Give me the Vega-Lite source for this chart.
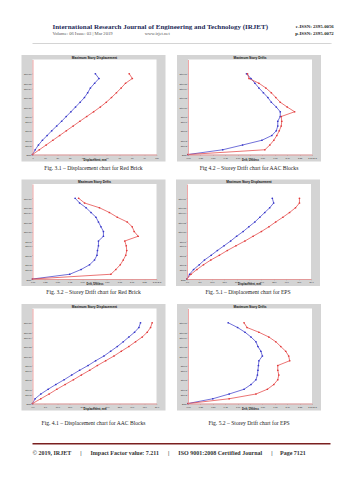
{
"$schema": "https://vega.github.io/schema/vega-lite/v6.json",
"background": "white",
"padding": {"left": 20.5, "top": 22, "right": 0, "bottom": 0},
"config": {
  "view": {"stroke": null},
  "axis": {"labelFont": "Liberation Sans", "labelFontSize": 2.2, "labelColor": "#333", "titleFont": "Liberation Sans", "titleFontSize": 2.6, "titleFontWeight": "bold", "titleColor": "#111", "tickSize": 1, "tickWidth": 0.3, "tickColor": "#888", "labelPadding": 0.5, "titlePadding": 0.3, "gridColor": "#d0d0d0", "gridWidth": 0.5, "domainColor": "#e88080", "domainWidth": 0.7, "zindex": 1, "labelOverlap": false, "labelFlush": false}
},
"datasets": {
"p1": [
{"story":0,"dir":"Y","value":0},{"story":1,"dir":"Y","value":2.2},{"story":2,"dir":"Y","value":4.8},{"story":3,"dir":"Y","value":8},{"story":4,"dir":"Y","value":11.8},{"story":5,"dir":"Y","value":15.5},{"story":6,"dir":"Y","value":19.5},{"story":7,"dir":"Y","value":23.5},{"story":8,"dir":"Y","value":27.2},{"story":9,"dir":"Y","value":31},{"story":10,"dir":"Y","value":34.7},{"story":11,"dir":"Y","value":38.4},{"story":12,"dir":"Y","value":41.9},{"story":13,"dir":"Y","value":44.5},{"story":14,"dir":"Y","value":46.7},{"story":15,"dir":"Y","value":50.1},{"story":16,"dir":"Y","value":53.6},{"story":17,"dir":"Y","value":50.7},
{"story":0,"dir":"X","value":0},{"story":1,"dir":"X","value":5.5},{"story":2,"dir":"X","value":11},{"story":3,"dir":"X","value":16.4},{"story":4,"dir":"X","value":21.9},{"story":5,"dir":"X","value":27.3},{"story":6,"dir":"X","value":32.8},{"story":7,"dir":"X","value":38.2},{"story":8,"dir":"X","value":43.7},{"story":9,"dir":"X","value":49.3},{"story":10,"dir":"X","value":54.7},{"story":11,"dir":"X","value":59.5},{"story":12,"dir":"X","value":63.7},{"story":13,"dir":"X","value":67.7},{"story":14,"dir":"X","value":71.5},{"story":15,"dir":"X","value":75},{"story":16,"dir":"X","value":80.5},{"story":17,"dir":"X","value":78}
],
"p2": [
{"story":0,"dir":"Y","value":0},{"story":1,"dir":"Y","value":0.7},{"story":2,"dir":"Y","value":1.1},{"story":3,"dir":"Y","value":1.49},{"story":4,"dir":"Y","value":1.69},{"story":5,"dir":"Y","value":1.78},{"story":6,"dir":"Y","value":1.81},{"story":7,"dir":"Y","value":1.81},{"story":8,"dir":"Y","value":1.86},{"story":9,"dir":"Y","value":1.86},{"story":10,"dir":"Y","value":1.78},{"story":11,"dir":"Y","value":1.68},{"story":12,"dir":"Y","value":1.61},{"story":13,"dir":"Y","value":1.52},{"story":14,"dir":"Y","value":1.43},{"story":15,"dir":"Y","value":1.35},{"story":16,"dir":"Y","value":1.27},{"story":17,"dir":"Y","value":1.18},
{"story":0,"dir":"X","value":0},{"story":1,"dir":"X","value":1.55},{"story":2,"dir":"X","value":1.65},{"story":3,"dir":"X","value":1.73},{"story":4,"dir":"X","value":1.79},{"story":5,"dir":"X","value":1.84},{"story":6,"dir":"X","value":1.88},{"story":7,"dir":"X","value":1.89},{"story":8,"dir":"X","value":1.88},{"story":9,"dir":"X","value":2.15},{"story":10,"dir":"X","value":2.0},{"story":11,"dir":"X","value":1.86},{"story":12,"dir":"X","value":1.77},{"story":13,"dir":"X","value":1.68},{"story":14,"dir":"X","value":1.57},{"story":15,"dir":"X","value":1.43},{"story":16,"dir":"X","value":1.23},{"story":17,"dir":"X","value":1.2}
],
"p3": [
{"story":0,"dir":"Y","value":0},{"story":1,"dir":"Y","value":0.75},{"story":2,"dir":"Y","value":0.98},{"story":3,"dir":"Y","value":1.15},{"story":4,"dir":"Y","value":1.25},{"story":5,"dir":"Y","value":1.3},{"story":6,"dir":"Y","value":1.31},{"story":7,"dir":"Y","value":1.33},{"story":8,"dir":"Y","value":1.33},{"story":9,"dir":"Y","value":1.43},{"story":10,"dir":"Y","value":1.43},{"story":11,"dir":"Y","value":1.38},{"story":12,"dir":"Y","value":1.33},{"story":13,"dir":"Y","value":1.28},{"story":14,"dir":"Y","value":1.18},{"story":15,"dir":"Y","value":1.08},{"story":16,"dir":"Y","value":0.95},{"story":17,"dir":"Y","value":0.86},
{"story":0,"dir":"X","value":0},{"story":1,"dir":"X","value":1.58},{"story":2,"dir":"X","value":1.68},{"story":3,"dir":"X","value":1.77},{"story":4,"dir":"X","value":1.83},{"story":5,"dir":"X","value":1.88},{"story":6,"dir":"X","value":1.9},{"story":7,"dir":"X","value":1.89},{"story":8,"dir":"X","value":1.86},{"story":9,"dir":"X","value":2.13},{"story":10,"dir":"X","value":2.05},{"story":11,"dir":"X","value":2.01},{"story":12,"dir":"X","value":1.91},{"story":13,"dir":"X","value":1.71},{"story":14,"dir":"X","value":1.55},{"story":15,"dir":"X","value":1.35},{"story":16,"dir":"X","value":1.05},{"story":17,"dir":"X","value":0.93}
],
"p4": [
{"story":0,"dir":"Y","value":0},{"story":1,"dir":"Y","value":1.05},{"story":2,"dir":"Y","value":2.65},{"story":3,"dir":"Y","value":4.95},{"story":4,"dir":"Y","value":7.05},{"story":5,"dir":"Y","value":9.75},{"story":6,"dir":"Y","value":12.25},{"story":7,"dir":"Y","value":14.95},{"story":8,"dir":"Y","value":17.6},{"story":9,"dir":"Y","value":20},{"story":10,"dir":"Y","value":22.65},{"story":11,"dir":"Y","value":24.95},{"story":12,"dir":"Y","value":27.35},{"story":13,"dir":"Y","value":29.35},{"story":14,"dir":"Y","value":31.35},{"story":15,"dir":"Y","value":33.35},{"story":16,"dir":"Y","value":34.95},{"story":17,"dir":"Y","value":34.4},
{"story":0,"dir":"X","value":0},{"story":1,"dir":"X","value":1.6},{"story":2,"dir":"X","value":4},{"story":3,"dir":"X","value":6.65},{"story":4,"dir":"X","value":9.6},{"story":5,"dir":"X","value":13.05},{"story":6,"dir":"X","value":16.25},{"story":7,"dir":"X","value":19.75},{"story":8,"dir":"X","value":23.35},{"story":9,"dir":"X","value":26.65},{"story":10,"dir":"X","value":30},{"story":11,"dir":"X","value":33.05},{"story":12,"dir":"X","value":35.75},{"story":13,"dir":"X","value":38.65},{"story":14,"dir":"X","value":41.35},{"story":15,"dir":"X","value":43.75},{"story":16,"dir":"X","value":45.35},{"story":17,"dir":"X","value":45.35}
],
"p5": [
{"story":0,"dir":"Y","value":0},{"story":1,"dir":"Y","value":1.05},{"story":2,"dir":"Y","value":3.35},{"story":3,"dir":"Y","value":6.3},{"story":4,"dir":"Y","value":9.4},{"story":5,"dir":"Y","value":12.75},{"story":6,"dir":"Y","value":15.8},{"story":7,"dir":"Y","value":19},{"story":8,"dir":"Y","value":22.4},{"story":9,"dir":"Y","value":25.45},{"story":10,"dir":"Y","value":28.8},{"story":11,"dir":"Y","value":31.5},{"story":12,"dir":"Y","value":34.2},{"story":13,"dir":"Y","value":36.6},{"story":14,"dir":"Y","value":38.85},{"story":15,"dir":"Y","value":41.15},{"story":16,"dir":"Y","value":42.9},{"story":17,"dir":"Y","value":43.55},
{"story":0,"dir":"X","value":0},{"story":1,"dir":"X","value":3.35},{"story":2,"dir":"X","value":6.7},{"story":3,"dir":"X","value":9.8},{"story":4,"dir":"X","value":13.15},{"story":5,"dir":"X","value":16.5},{"story":6,"dir":"X","value":19.7},{"story":7,"dir":"X","value":23.05},{"story":8,"dir":"X","value":26.15},{"story":9,"dir":"X","value":29.5},{"story":10,"dir":"X","value":32.85},{"story":11,"dir":"X","value":35.8},{"story":12,"dir":"X","value":38.85},{"story":13,"dir":"X","value":41.55},{"story":14,"dir":"X","value":44.25},{"story":15,"dir":"X","value":46.25},{"story":16,"dir":"X","value":47.6},{"story":17,"dir":"X","value":48.25}
],
"p6": [
{"story":0,"dir":"Y","value":0},{"story":1,"dir":"Y","value":0.5},{"story":2,"dir":"Y","value":0.83},{"story":3,"dir":"Y","value":1.13},{"story":4,"dir":"Y","value":1.27},{"story":5,"dir":"Y","value":1.37},{"story":6,"dir":"Y","value":1.4},{"story":7,"dir":"Y","value":1.41},{"story":8,"dir":"Y","value":1.42},{"story":9,"dir":"Y","value":1.43},{"story":10,"dir":"Y","value":1.5},{"story":11,"dir":"Y","value":1.47},{"story":12,"dir":"Y","value":1.41},{"story":13,"dir":"Y","value":1.37},{"story":14,"dir":"Y","value":1.27},{"story":15,"dir":"Y","value":1.15},{"story":16,"dir":"Y","value":1.0},{"story":17,"dir":"Y","value":0.81},
{"story":0,"dir":"X","value":0},{"story":1,"dir":"X","value":0.83},{"story":2,"dir":"X","value":1.37},{"story":3,"dir":"X","value":1.6},{"story":4,"dir":"X","value":1.73},{"story":5,"dir":"X","value":1.81},{"story":6,"dir":"X","value":1.83},{"story":7,"dir":"X","value":1.81},{"story":8,"dir":"X","value":1.81},{"story":9,"dir":"X","value":2.05},{"story":10,"dir":"X","value":2.03},{"story":11,"dir":"X","value":1.97},{"story":12,"dir":"X","value":1.87},{"story":13,"dir":"X","value":1.77},{"story":14,"dir":"X","value":1.63},{"story":15,"dir":"X","value":1.43},{"story":16,"dir":"X","value":1.19},{"story":17,"dir":"X","value":1.13}
]
},
"spacing": 14,
"vconcat": [
{"spacing": 7.5, "vconcat": [
  {"spacing": 0, "bounds": "flush", "hconcat": [
    {"width": 298, "height": 0.6, "view": {"fill": "#aaaaaa", "stroke": null}, "data": {"values": [{}]}, "mark": {"type": "point", "opacity": 0}, "encoding": {},
     "title": {"text": "International Research Journal of Engineering and Technology (IRJET)", "subtitle": "Volume: 06 Issue: 03 | Mar 2019\u00a0\u00a0\u00a0\u00a0\u00a0\u00a0\u00a0\u00a0\u00a0\u00a0\u00a0\u00a0\u00a0\u00a0\u00a0\u00a0\u00a0\u00a0\u00a0\u00a0\u00a0\u00a0\u00a0\u00a0\u00a0\u00a0\u00a0\u00a0www.irjet.net", "anchor": "start", "dx": 20, "offset": 4.5, "font": "Liberation Serif", "fontSize": 7, "fontWeight": "bold", "color": "#1d2a57", "subtitleFont": "Liberation Serif", "subtitleFontSize": 4.6, "subtitleColor": "#555", "subtitlePadding": 1.5}},
    {"width": 1, "height": 0.6, "view": {"fill": "#aaaaaa", "stroke": null}, "data": {"values": [{}]}, "mark": {"type": "point", "opacity": 0}, "encoding": {},
     "title": {"text": "e-ISSN: 2395-0056", "subtitle": "p-ISSN: 2395-0072", "anchor": "end", "offset": 4.5, "font": "Liberation Serif", "fontSize": 4.8, "fontWeight": "bold", "color": "#222", "subtitleFont": "Liberation Serif", "subtitleFontSize": 4.8, "subtitleFontWeight": "bold", "subtitleColor": "#222", "subtitlePadding": 2.5}}
  ]},
  {"spacing": 9.5, "hconcat": [
    {"title": {"text": "Fig. 3.1 – Displacement chart for Red Brick", "orient": "bottom", "anchor": "middle", "offset": 4, "font": "Liberation Serif", "fontSize": 5.6, "fontWeight": "normal", "color": "#222"},
     "vconcat": [{"width": 124, "height": 95,
      "title": {"text": "Maximum Story Displacement", "anchor": "middle", "offset": -3.8, "font": "Liberation Sans", "fontSize": 3.2, "fontWeight": "bold", "color": "#111"},
      "layer": [
       {"data": {"values": [{}]}, "mark": {"type": "rect", "color": "#d4d4d4", "clip": false},
        "encoding": {"x": {"datum": -8.87, "type": "quantitative", "scale": {"domain": [0, 100], "nice": false, "zero": false}, "axis": {"zindex": 1, "title": "Displacement, mm", "values": [0,10,20,30,40,50,60,70,80,90,100], "format": "d"}}, "x2": {"datum": 107.26}, "y": {"datum": -1.474, "type": "quantitative", "scale": {"domain": [0, 20], "nice": false, "zero": false}, "axis": {"zindex": 1, "title": null, "values": [0,2,3,5,7,8,10,12,14,15,17], "labelExpr": "datum.value == 0 ? 'Base' : 'Story' + datum.value"}}, "y2": {"datum": 20.947}}},
       {"data": {"values": [{}]}, "mark": {"type": "rect", "color": "#ffffff", "clip": false},
        "encoding": {"x": {"datum": 0, "type": "quantitative", "scale": {"domain": [0, 100], "nice": false, "zero": false}, "axis": {"zindex": 1, "title": "Displacement, mm", "values": [0,10,20,30,40,50,60,70,80,90,100], "format": "d"}}, "x2": {"datum": 100}, "y": {"datum": 0, "type": "quantitative", "scale": {"domain": [0, 20], "nice": false, "zero": false}, "axis": {"zindex": 1, "title": null, "values": [0,2,3,5,7,8,10,12,14,15,17], "labelExpr": "datum.value == 0 ? 'Base' : 'Story' + datum.value"}}, "y2": {"datum": 20}}},
       {"data": {"name": "p1"}, "mark": {"type": "line", "strokeWidth": 0.7},
        "encoding": {"x": {"field": "value", "type": "quantitative", "scale": {"domain": [0, 100], "nice": false, "zero": false}, "axis": {"zindex": 1, "title": "Displacement, mm", "values": [0,10,20,30,40,50,60,70,80,90,100], "format": "d"}},
          "y": {"field": "story", "type": "quantitative", "scale": {"domain": [0, 20], "nice": false, "zero": false}, "axis": {"zindex": 1, "title": null, "values": [0,2,3,5,7,8,10,12,14,15,17], "labelExpr": "datum.value == 0 ? 'Base' : 'Story' + datum.value"}},
          "color": {"field": "dir", "type": "nominal", "scale": {"domain": ["X", "Y"], "range": ["#e23a3a", "#3434c8"]}, "legend": null},
          "order": {"field": "story", "type": "quantitative"}}},
       {"data": {"name": "p1"}, "mark": {"type": "point", "filled": true, "size": 3, "opacity": 1},
        "encoding": {"x": {"field": "value", "type": "quantitative", "scale": {"domain": [0, 100], "nice": false, "zero": false}, "axis": {"zindex": 1, "title": "Displacement, mm", "values": [0,10,20,30,40,50,60,70,80,90,100], "format": "d"}}, "y": {"field": "story", "type": "quantitative", "scale": {"domain": [0, 20], "nice": false, "zero": false}, "axis": {"zindex": 1, "title": null, "values": [0,2,3,5,7,8,10,12,14,15,17], "labelExpr": "datum.value == 0 ? 'Base' : 'Story' + datum.value"}}, "color": {"field": "dir", "type": "nominal", "scale": {"domain": ["X", "Y"], "range": ["#e23a3a", "#3434c8"]}, "legend": null}}}
      ]}]},
    {"title": {"text": "Fig 4.2 – Storey Drift chart for AAC Blocks", "orient": "bottom", "anchor": "middle", "offset": 4, "font": "Liberation Serif", "fontSize": 5.6, "fontWeight": "normal", "color": "#222"},
     "vconcat": [{"width": 124, "height": 95,
      "title": {"text": "Maximum Story Drifts", "anchor": "middle", "offset": -3.8, "font": "Liberation Sans", "fontSize": 3.2, "fontWeight": "bold", "color": "#111"},
      "layer": [
       {"data": {"values": [{}]}, "mark": {"type": "rect", "color": "#d4d4d4", "clip": false},
        "encoding": {"x": {"datum": -0.2218, "type": "quantitative", "scale": {"domain": [0, 2.5], "nice": false, "zero": false}, "axis": {"zindex": 1, "title": "Drift, Unitless", "values": [0,0.25,0.5,0.75,1,1.25,1.5,1.75,2,2.25,2.5], "labelExpr": "datum.value >= 2.5 ? '2.50 E-3' : format(datum.value, '.2f')"}}, "x2": {"datum": 2.6815}, "y": {"datum": -1.474, "type": "quantitative", "scale": {"domain": [0, 20], "nice": false, "zero": false}, "axis": {"zindex": 1, "title": null, "values": [0,2,3,5,7,8,10,12,14,15,17], "labelExpr": "datum.value == 0 ? 'Base' : 'Story' + datum.value"}}, "y2": {"datum": 20.947}}},
       {"data": {"values": [{}]}, "mark": {"type": "rect", "color": "#ffffff", "clip": false},
        "encoding": {"x": {"datum": 0, "type": "quantitative", "scale": {"domain": [0, 2.5], "nice": false, "zero": false}, "axis": {"zindex": 1, "title": "Drift, Unitless", "values": [0,0.25,0.5,0.75,1,1.25,1.5,1.75,2,2.25,2.5], "labelExpr": "datum.value >= 2.5 ? '2.50 E-3' : format(datum.value, '.2f')"}}, "x2": {"datum": 2.5}, "y": {"datum": 0, "type": "quantitative", "scale": {"domain": [0, 20], "nice": false, "zero": false}, "axis": {"zindex": 1, "title": null, "values": [0,2,3,5,7,8,10,12,14,15,17], "labelExpr": "datum.value == 0 ? 'Base' : 'Story' + datum.value"}}, "y2": {"datum": 20}}},
       {"data": {"name": "p2"}, "mark": {"type": "line", "strokeWidth": 0.7},
        "encoding": {"x": {"field": "value", "type": "quantitative", "scale": {"domain": [0, 2.5], "nice": false, "zero": false}, "axis": {"zindex": 1, "title": "Drift, Unitless", "values": [0,0.25,0.5,0.75,1,1.25,1.5,1.75,2,2.25,2.5], "labelExpr": "datum.value >= 2.5 ? '2.50 E-3' : format(datum.value, '.2f')"}},
          "y": {"field": "story", "type": "quantitative", "scale": {"domain": [0, 20], "nice": false, "zero": false}, "axis": {"zindex": 1, "title": null, "values": [0,2,3,5,7,8,10,12,14,15,17], "labelExpr": "datum.value == 0 ? 'Base' : 'Story' + datum.value"}},
          "color": {"field": "dir", "type": "nominal", "scale": {"domain": ["X", "Y"], "range": ["#e23a3a", "#3434c8"]}, "legend": null},
          "order": {"field": "story", "type": "quantitative"}}},
       {"data": {"name": "p2"}, "mark": {"type": "point", "filled": true, "size": 3, "opacity": 1},
        "encoding": {"x": {"field": "value", "type": "quantitative", "scale": {"domain": [0, 2.5], "nice": false, "zero": false}, "axis": {"zindex": 1, "title": "Drift, Unitless", "values": [0,0.25,0.5,0.75,1,1.25,1.5,1.75,2,2.25,2.5], "labelExpr": "datum.value >= 2.5 ? '2.50 E-3' : format(datum.value, '.2f')"}}, "y": {"field": "story", "type": "quantitative", "scale": {"domain": [0, 20], "nice": false, "zero": false}, "axis": {"zindex": 1, "title": null, "values": [0,2,3,5,7,8,10,12,14,15,17], "labelExpr": "datum.value == 0 ? 'Base' : 'Story' + datum.value"}}, "color": {"field": "dir", "type": "nominal", "scale": {"domain": ["X", "Y"], "range": ["#e23a3a", "#3434c8"]}, "legend": null}}}
      ]}]}
  ]},
  {"spacing": 9.5, "hconcat": [
    {"title": {"text": "Fig. 3.2 – Storey Drift chart for Red Brick", "orient": "bottom", "anchor": "middle", "offset": 4, "font": "Liberation Serif", "fontSize": 5.6, "fontWeight": "normal", "color": "#222"},
     "vconcat": [{"width": 124, "height": 95,
      "title": {"text": "Maximum Story Drifts", "anchor": "middle", "offset": -3.8, "font": "Liberation Sans", "fontSize": 3.2, "fontWeight": "bold", "color": "#111"},
      "layer": [
       {"data": {"values": [{}]}, "mark": {"type": "rect", "color": "#d4d4d4", "clip": false},
        "encoding": {"x": {"datum": -0.2218, "type": "quantitative", "scale": {"domain": [0, 2.5], "nice": false, "zero": false}, "axis": {"zindex": 1, "title": "Drift, Unitless", "values": [0,0.25,0.5,0.75,1,1.25,1.5,1.75,2,2.25,2.5], "labelExpr": "datum.value >= 2.5 ? '2.50 E-3' : format(datum.value, '.2f')"}}, "x2": {"datum": 2.6815}, "y": {"datum": -1.474, "type": "quantitative", "scale": {"domain": [0, 20], "nice": false, "zero": false}, "axis": {"zindex": 1, "title": null, "values": [0,2,3,5,7,8,10,12,14,15,17], "labelExpr": "datum.value == 0 ? 'Base' : 'Story' + datum.value"}}, "y2": {"datum": 20.947}}},
       {"data": {"values": [{}]}, "mark": {"type": "rect", "color": "#ffffff", "clip": false},
        "encoding": {"x": {"datum": 0, "type": "quantitative", "scale": {"domain": [0, 2.5], "nice": false, "zero": false}, "axis": {"zindex": 1, "title": "Drift, Unitless", "values": [0,0.25,0.5,0.75,1,1.25,1.5,1.75,2,2.25,2.5], "labelExpr": "datum.value >= 2.5 ? '2.50 E-3' : format(datum.value, '.2f')"}}, "x2": {"datum": 2.5}, "y": {"datum": 0, "type": "quantitative", "scale": {"domain": [0, 20], "nice": false, "zero": false}, "axis": {"zindex": 1, "title": null, "values": [0,2,3,5,7,8,10,12,14,15,17], "labelExpr": "datum.value == 0 ? 'Base' : 'Story' + datum.value"}}, "y2": {"datum": 20}}},
       {"data": {"name": "p3"}, "mark": {"type": "line", "strokeWidth": 0.7},
        "encoding": {"x": {"field": "value", "type": "quantitative", "scale": {"domain": [0, 2.5], "nice": false, "zero": false}, "axis": {"zindex": 1, "title": "Drift, Unitless", "values": [0,0.25,0.5,0.75,1,1.25,1.5,1.75,2,2.25,2.5], "labelExpr": "datum.value >= 2.5 ? '2.50 E-3' : format(datum.value, '.2f')"}},
          "y": {"field": "story", "type": "quantitative", "scale": {"domain": [0, 20], "nice": false, "zero": false}, "axis": {"zindex": 1, "title": null, "values": [0,2,3,5,7,8,10,12,14,15,17], "labelExpr": "datum.value == 0 ? 'Base' : 'Story' + datum.value"}},
          "color": {"field": "dir", "type": "nominal", "scale": {"domain": ["X", "Y"], "range": ["#e23a3a", "#3434c8"]}, "legend": null},
          "order": {"field": "story", "type": "quantitative"}}},
       {"data": {"name": "p3"}, "mark": {"type": "point", "filled": true, "size": 3, "opacity": 1},
        "encoding": {"x": {"field": "value", "type": "quantitative", "scale": {"domain": [0, 2.5], "nice": false, "zero": false}, "axis": {"zindex": 1, "title": "Drift, Unitless", "values": [0,0.25,0.5,0.75,1,1.25,1.5,1.75,2,2.25,2.5], "labelExpr": "datum.value >= 2.5 ? '2.50 E-3' : format(datum.value, '.2f')"}}, "y": {"field": "story", "type": "quantitative", "scale": {"domain": [0, 20], "nice": false, "zero": false}, "axis": {"zindex": 1, "title": null, "values": [0,2,3,5,7,8,10,12,14,15,17], "labelExpr": "datum.value == 0 ? 'Base' : 'Story' + datum.value"}}, "color": {"field": "dir", "type": "nominal", "scale": {"domain": ["X", "Y"], "range": ["#e23a3a", "#3434c8"]}, "legend": null}}}
      ]}]},
    {"title": {"text": "Fig. 5.1 – Displacement chart for EPS", "orient": "bottom", "anchor": "middle", "offset": 4, "font": "Liberation Serif", "fontSize": 5.6, "fontWeight": "normal", "color": "#222"},
     "vconcat": [{"width": 124, "height": 95,
      "title": {"text": "Maximum Story Displacement", "anchor": "middle", "offset": -3.8, "font": "Liberation Sans", "fontSize": 3.2, "fontWeight": "bold", "color": "#111"},
      "layer": [
       {"data": {"values": [{}]}, "mark": {"type": "rect", "color": "#d4d4d4", "clip": false},
        "encoding": {"x": {"datum": -4.435, "type": "quantitative", "scale": {"domain": [0, 50], "nice": false, "zero": false}, "axis": {"zindex": 1, "title": "Displacement, mm", "values": [0,5,10,15,20,25,30,35,40,45,50], "format": ".1f"}}, "x2": {"datum": 53.63}, "y": {"datum": -1.474, "type": "quantitative", "scale": {"domain": [0, 20], "nice": false, "zero": false}, "axis": {"zindex": 1, "title": null, "values": [0,2,3,5,7,8,10,12,14,15,17], "labelExpr": "datum.value == 0 ? 'Base' : 'Story' + datum.value"}}, "y2": {"datum": 20.947}}},
       {"data": {"values": [{}]}, "mark": {"type": "rect", "color": "#ffffff", "clip": false},
        "encoding": {"x": {"datum": 0, "type": "quantitative", "scale": {"domain": [0, 50], "nice": false, "zero": false}, "axis": {"zindex": 1, "title": "Displacement, mm", "values": [0,5,10,15,20,25,30,35,40,45,50], "format": ".1f"}}, "x2": {"datum": 50}, "y": {"datum": 0, "type": "quantitative", "scale": {"domain": [0, 20], "nice": false, "zero": false}, "axis": {"zindex": 1, "title": null, "values": [0,2,3,5,7,8,10,12,14,15,17], "labelExpr": "datum.value == 0 ? 'Base' : 'Story' + datum.value"}}, "y2": {"datum": 20}}},
       {"data": {"name": "p4"}, "mark": {"type": "line", "strokeWidth": 0.7},
        "encoding": {"x": {"field": "value", "type": "quantitative", "scale": {"domain": [0, 50], "nice": false, "zero": false}, "axis": {"zindex": 1, "title": "Displacement, mm", "values": [0,5,10,15,20,25,30,35,40,45,50], "format": ".1f"}},
          "y": {"field": "story", "type": "quantitative", "scale": {"domain": [0, 20], "nice": false, "zero": false}, "axis": {"zindex": 1, "title": null, "values": [0,2,3,5,7,8,10,12,14,15,17], "labelExpr": "datum.value == 0 ? 'Base' : 'Story' + datum.value"}},
          "color": {"field": "dir", "type": "nominal", "scale": {"domain": ["X", "Y"], "range": ["#e23a3a", "#3434c8"]}, "legend": null},
          "order": {"field": "story", "type": "quantitative"}}},
       {"data": {"name": "p4"}, "mark": {"type": "point", "filled": true, "size": 3, "opacity": 1},
        "encoding": {"x": {"field": "value", "type": "quantitative", "scale": {"domain": [0, 50], "nice": false, "zero": false}, "axis": {"zindex": 1, "title": "Displacement, mm", "values": [0,5,10,15,20,25,30,35,40,45,50], "format": ".1f"}}, "y": {"field": "story", "type": "quantitative", "scale": {"domain": [0, 20], "nice": false, "zero": false}, "axis": {"zindex": 1, "title": null, "values": [0,2,3,5,7,8,10,12,14,15,17], "labelExpr": "datum.value == 0 ? 'Base' : 'Story' + datum.value"}}, "color": {"field": "dir", "type": "nominal", "scale": {"domain": ["X", "Y"], "range": ["#e23a3a", "#3434c8"]}, "legend": null}}}
      ]}]}
  ]},
  {"spacing": 9.5, "hconcat": [
    {"title": {"text": "Fig. 4.1 – Displacement chart for AAC Blocks", "orient": "bottom", "anchor": "middle", "offset": 10, "font": "Liberation Serif", "fontSize": 5.6, "fontWeight": "normal", "color": "#222"},
     "vconcat": [{"width": 124, "height": 95,
      "title": {"text": "Maximum Story Displacement", "anchor": "middle", "offset": -3.8, "font": "Liberation Sans", "fontSize": 3.2, "fontWeight": "bold", "color": "#111"},
      "layer": [
       {"data": {"values": [{}]}, "mark": {"type": "rect", "color": "#d4d4d4", "clip": false},
        "encoding": {"x": {"datum": -4.435, "type": "quantitative", "scale": {"domain": [0, 50], "nice": false, "zero": false}, "axis": {"zindex": 1, "title": "Displacement, mm", "values": [0,5,10,15,20,25,30,35,40,45,50], "format": ".1f"}}, "x2": {"datum": 53.63}, "y": {"datum": -1.474, "type": "quantitative", "scale": {"domain": [0, 20], "nice": false, "zero": false}, "axis": {"zindex": 1, "title": null, "values": [0,2,3,5,7,8,10,12,14,15,17], "labelExpr": "datum.value == 0 ? 'Base' : 'Story' + datum.value"}}, "y2": {"datum": 20.947}}},
       {"data": {"values": [{}]}, "mark": {"type": "rect", "color": "#ffffff", "clip": false},
        "encoding": {"x": {"datum": 0, "type": "quantitative", "scale": {"domain": [0, 50], "nice": false, "zero": false}, "axis": {"zindex": 1, "title": "Displacement, mm", "values": [0,5,10,15,20,25,30,35,40,45,50], "format": ".1f"}}, "x2": {"datum": 50}, "y": {"datum": 0, "type": "quantitative", "scale": {"domain": [0, 20], "nice": false, "zero": false}, "axis": {"zindex": 1, "title": null, "values": [0,2,3,5,7,8,10,12,14,15,17], "labelExpr": "datum.value == 0 ? 'Base' : 'Story' + datum.value"}}, "y2": {"datum": 20}}},
       {"data": {"name": "p5"}, "mark": {"type": "line", "strokeWidth": 0.7},
        "encoding": {"x": {"field": "value", "type": "quantitative", "scale": {"domain": [0, 50], "nice": false, "zero": false}, "axis": {"zindex": 1, "title": "Displacement, mm", "values": [0,5,10,15,20,25,30,35,40,45,50], "format": ".1f"}},
          "y": {"field": "story", "type": "quantitative", "scale": {"domain": [0, 20], "nice": false, "zero": false}, "axis": {"zindex": 1, "title": null, "values": [0,2,3,5,7,8,10,12,14,15,17], "labelExpr": "datum.value == 0 ? 'Base' : 'Story' + datum.value"}},
          "color": {"field": "dir", "type": "nominal", "scale": {"domain": ["X", "Y"], "range": ["#e23a3a", "#3434c8"]}, "legend": null},
          "order": {"field": "story", "type": "quantitative"}}},
       {"data": {"name": "p5"}, "mark": {"type": "point", "filled": true, "size": 3, "opacity": 1},
        "encoding": {"x": {"field": "value", "type": "quantitative", "scale": {"domain": [0, 50], "nice": false, "zero": false}, "axis": {"zindex": 1, "title": "Displacement, mm", "values": [0,5,10,15,20,25,30,35,40,45,50], "format": ".1f"}}, "y": {"field": "story", "type": "quantitative", "scale": {"domain": [0, 20], "nice": false, "zero": false}, "axis": {"zindex": 1, "title": null, "values": [0,2,3,5,7,8,10,12,14,15,17], "labelExpr": "datum.value == 0 ? 'Base' : 'Story' + datum.value"}}, "color": {"field": "dir", "type": "nominal", "scale": {"domain": ["X", "Y"], "range": ["#e23a3a", "#3434c8"]}, "legend": null}}}
      ]}]},
    {"title": {"text": "Fig. 5.2 – Storey Drift chart for EPS", "orient": "bottom", "anchor": "middle", "offset": 10, "font": "Liberation Serif", "fontSize": 5.6, "fontWeight": "normal", "color": "#222"},
     "vconcat": [{"width": 124, "height": 95,
      "title": {"text": "Maximum Story Drifts", "anchor": "middle", "offset": -3.8, "font": "Liberation Sans", "fontSize": 3.2, "fontWeight": "bold", "color": "#111"},
      "layer": [
       {"data": {"values": [{}]}, "mark": {"type": "rect", "color": "#d4d4d4", "clip": false},
        "encoding": {"x": {"datum": -0.2218, "type": "quantitative", "scale": {"domain": [0, 2.5], "nice": false, "zero": false}, "axis": {"zindex": 1, "title": "Drift, Unitless", "values": [0,0.25,0.5,0.75,1,1.25,1.5,1.75,2,2.25,2.5], "labelExpr": "datum.value >= 2.5 ? '2.50 E-3' : format(datum.value, '.2f')"}}, "x2": {"datum": 2.6815}, "y": {"datum": -1.474, "type": "quantitative", "scale": {"domain": [0, 20], "nice": false, "zero": false}, "axis": {"zindex": 1, "title": null, "values": [0,2,3,5,7,8,10,12,14,15,17], "labelExpr": "datum.value == 0 ? 'Base' : 'Story' + datum.value"}}, "y2": {"datum": 20.947}}},
       {"data": {"values": [{}]}, "mark": {"type": "rect", "color": "#ffffff", "clip": false},
        "encoding": {"x": {"datum": 0, "type": "quantitative", "scale": {"domain": [0, 2.5], "nice": false, "zero": false}, "axis": {"zindex": 1, "title": "Drift, Unitless", "values": [0,0.25,0.5,0.75,1,1.25,1.5,1.75,2,2.25,2.5], "labelExpr": "datum.value >= 2.5 ? '2.50 E-3' : format(datum.value, '.2f')"}}, "x2": {"datum": 2.5}, "y": {"datum": 0, "type": "quantitative", "scale": {"domain": [0, 20], "nice": false, "zero": false}, "axis": {"zindex": 1, "title": null, "values": [0,2,3,5,7,8,10,12,14,15,17], "labelExpr": "datum.value == 0 ? 'Base' : 'Story' + datum.value"}}, "y2": {"datum": 20}}},
       {"data": {"name": "p6"}, "mark": {"type": "line", "strokeWidth": 0.7},
        "encoding": {"x": {"field": "value", "type": "quantitative", "scale": {"domain": [0, 2.5], "nice": false, "zero": false}, "axis": {"zindex": 1, "title": "Drift, Unitless", "values": [0,0.25,0.5,0.75,1,1.25,1.5,1.75,2,2.25,2.5], "labelExpr": "datum.value >= 2.5 ? '2.50 E-3' : format(datum.value, '.2f')"}},
          "y": {"field": "story", "type": "quantitative", "scale": {"domain": [0, 20], "nice": false, "zero": false}, "axis": {"zindex": 1, "title": null, "values": [0,2,3,5,7,8,10,12,14,15,17], "labelExpr": "datum.value == 0 ? 'Base' : 'Story' + datum.value"}},
          "color": {"field": "dir", "type": "nominal", "scale": {"domain": ["X", "Y"], "range": ["#e23a3a", "#3434c8"]}, "legend": null},
          "order": {"field": "story", "type": "quantitative"}}},
       {"data": {"name": "p6"}, "mark": {"type": "point", "filled": true, "size": 3, "opacity": 1},
        "encoding": {"x": {"field": "value", "type": "quantitative", "scale": {"domain": [0, 2.5], "nice": false, "zero": false}, "axis": {"zindex": 1, "title": "Drift, Unitless", "values": [0,0.25,0.5,0.75,1,1.25,1.5,1.75,2,2.25,2.5], "labelExpr": "datum.value >= 2.5 ? '2.50 E-3' : format(datum.value, '.2f')"}}, "y": {"field": "story", "type": "quantitative", "scale": {"domain": [0, 20], "nice": false, "zero": false}, "axis": {"zindex": 1, "title": null, "values": [0,2,3,5,7,8,10,12,14,15,17], "labelExpr": "datum.value == 0 ? 'Base' : 'Story' + datum.value"}}, "color": {"field": "dir", "type": "nominal", "scale": {"domain": ["X", "Y"], "range": ["#e23a3a", "#3434c8"]}, "legend": null}}}
      ]}]}
  ]}
]},
{"width": 298, "height": 1.6, "view": {"fill": "#7b2020", "stroke": null}, "data": {"values": [{}]}, "mark": {"type": "point", "opacity": 0}, "encoding": {},
 "title": {"text": "© 2019, IRJET\u00a0\u00a0\u00a0\u00a0\u00a0\u00a0|\u00a0\u00a0\u00a0\u00a0\u00a0\u00a0Impact Factor value: 7.211\u00a0\u00a0\u00a0\u00a0\u00a0\u00a0|\u00a0\u00a0\u00a0\u00a0\u00a0\u00a0ISO 9001:2008 Certified Journal\u00a0\u00a0\u00a0\u00a0\u00a0\u00a0|\u00a0\u00a0\u00a0\u00a0\u00a0Page 7121", "orient": "bottom", "anchor": "start", "offset": 3, "font": "Liberation Serif", "fontSize": 6, "fontWeight": "bold", "color": "#333"}}
]
}
